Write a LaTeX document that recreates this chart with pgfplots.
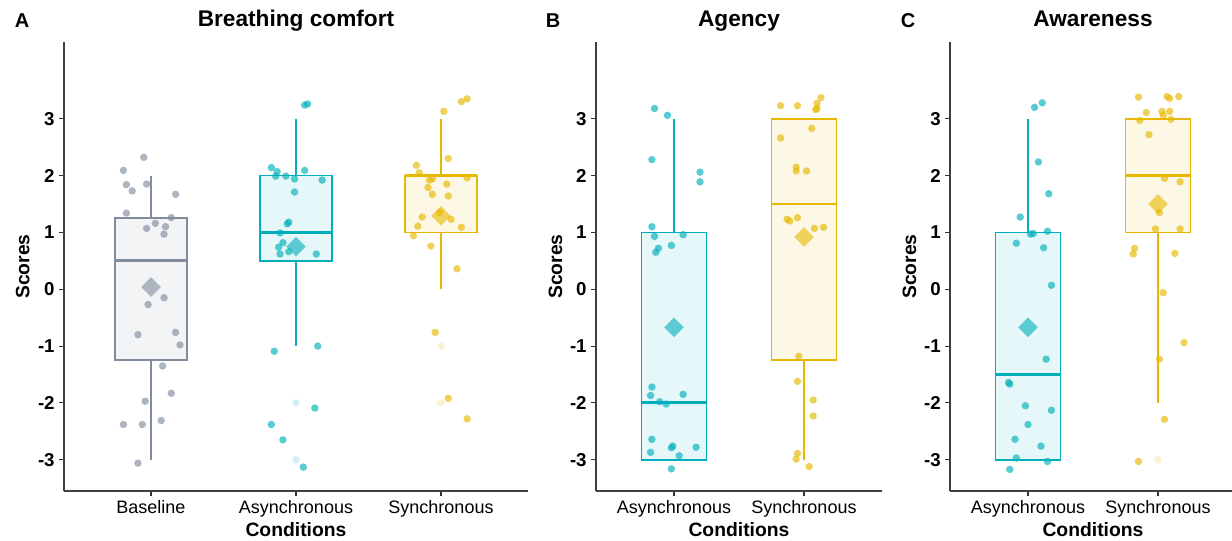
\documentclass[border=0pt]{standalone}
\usepackage{fontspec}
\setmainfont{Liberation Sans}
\usepackage{pgfplots}
\pgfplotsset{compat=1.18}
\usepgfplotslibrary{statistics}

\definecolor{grayc}{RGB}{128,141,158}
\definecolor{tealc}{HTML}{00AFBB}
\definecolor{yelc}{HTML}{E7B800}

\pgfplotsset{
  panel/.style={
    scale only axis, height=336.75pt,
    anchor=south west,
    axis lines=left, axis line style={-, line width=1.1pt, black!75},
    ymin=-3.55, ymax=4.35,
    ytick={-3,-2,-1,0,1,2,3}, yticklabels={-3,-2,-1,0,1,2,3},
    tick align=outside, major tick length=3.5pt,
    tick style={black!80, line width=0.8pt},
    yticklabel style={font=\fontsize{14}{16}\selectfont\bfseries},
    xticklabel style={font=\fontsize{13.5}{16}\selectfont},
    label style={font=\fontsize{14.5}{17}\selectfont\bfseries},
    xlabel={Conditions}, ylabel={Scores},
    xlabel style={at={(axis description cs:0.5,0)}, anchor=base, yshift=-34pt},
    title style={font=\fontsize{17}{20}\selectfont\bfseries,
      at={(axis description cs:0.5,1)}, anchor=base, yshift=5.5pt},
    boxplot/draw direction=y,
  },
  pts/.style={only marks, mark=*, mark size=2.8pt, color=#1,
    mark options={draw opacity=0, line width=0pt, fill=#1, fill opacity=0.65}},
  outl/.style={only marks, mark=*, mark size=2.8pt, color=#1,
    mark options={draw opacity=0, line width=0pt, fill=#1, fill opacity=0.18}},
  mn/.style={only marks, mark=square*, mark size=5.2pt, color=#1,
    mark options={rotate=45, draw opacity=0, fill=#1, fill opacity=0.6}},
  bx/.style={draw=#1, fill=#1!10,
    /pgfplots/boxplot/whisker extend=0,
    /pgfplots/boxplot/every box/.style={line width=1.2pt},
    /pgfplots/boxplot/every whisker/.style={line width=0.8pt},
    /pgfplots/boxplot/every median/.style={line width=2.2pt}},
}

\begin{document}
\begin{tikzpicture}
\useasboundingbox (0,0) rectangle (924pt,405.75pt);

\node[anchor=base, font=\fontsize{15}{18}\selectfont\bfseries] at (16.5pt,385pt) {A};
\node[anchor=base, font=\fontsize{15}{18}\selectfont\bfseries] at (414.75pt,385pt) {B};
\node[anchor=base, font=\fontsize{15}{18}\selectfont\bfseries] at (681pt,385pt) {C};

% ---------- A: Breathing comfort
\begin{axis}[panel, at={(48pt,37.5pt)}, width=348pt,
    xmin=0.4, xmax=3.6, xtick={1,2,3},
    xticklabels={Baseline,Asynchronous,Synchronous},
    ylabel style={at={(axis description cs:-0.089,0.5)}, anchor=center},
    title={Breathing comfort}]
\addplot[bx=grayc, boxplot prepared={lower whisker=-3, lower quartile=-1.25,
    median=0.5, upper quartile=1.25, upper whisker=2, draw position=1, box extend=0.5}]
    coordinates {};
\addplot[bx=tealc, boxplot prepared={lower whisker=-1, lower quartile=0.5,
    median=1, upper quartile=2, upper whisker=3, draw position=2, box extend=0.5}]
    coordinates {};
\addplot[bx=yelc, boxplot prepared={lower whisker=0, lower quartile=1,
    median=2, upper quartile=2, upper whisker=3, draw position=3, box extend=0.5}]
    coordinates {};
\addplot[outl=tealc] coordinates {(2,-2) (2,-3)};
\addplot[outl=yelc] coordinates {(3,-1) (3,-2)};
\addplot[pts=grayc] table {
0.95 2.32
0.81 2.09
0.83 1.84
0.87 1.73
0.97 1.85
1.17 1.67
0.83 1.34
1.14 1.26
1.03 1.16
0.97 1.07
1.10 1.10
1.09 0.97
1.09 -0.15
0.98 -0.27
0.91 -0.80
1.17 -0.76
1.20 -0.98
1.08 -1.35
1.14 -1.83
0.96 -1.97
0.81 -2.38
0.94 -2.38
1.07 -2.31
0.91 -3.06
};
\addplot[pts=tealc] table {
2.06 3.24
2.08 3.26
1.83 2.14
1.87 2.07
1.86 1.99
1.93 1.99
2.06 2.09
1.99 1.94
2.18 1.92
1.99 1.71
1.95 1.18
1.94 1.15
1.89 0.99
1.91 0.82
1.88 0.74
1.89 0.62
1.95 0.66
2.14 0.62
1.85 -1.09
2.15 -1.00
2.13 -2.09
1.83 -2.38
1.91 -2.65
2.05 -3.13
};
\addplot[pts=yelc] table {
3.18 3.35
3.14 3.30
3.02 3.13
3.05 2.30
2.83 2.18
2.85 2.05
2.92 1.92
2.94 1.94
3.18 1.96
3.04 1.85
2.91 1.79
2.94 1.67
3.05 1.64
2.99 1.35
2.87 1.27
3.07 1.23
2.84 1.11
3.14 1.09
2.81 0.94
2.93 0.76
3.11 0.36
2.96 -0.76
3.05 -1.92
3.18 -2.28
};
\addplot[mn=grayc] coordinates {(1,0.04)};
\addplot[mn=tealc] coordinates {(2,0.75)};
\addplot[mn=yelc] coordinates {(3,1.29)};
\end{axis}

% ---------- B: Agency
\begin{axis}[panel, at={(447pt,37.5pt)}, width=214.5pt,
    xmin=0.4, xmax=2.6, xtick={1,2},
    xticklabels={Asynchronous,Synchronous},
    ylabel style={at={(axis description cs:-0.142,0.5)}, anchor=center},
    title={Agency}]
\addplot[bx=tealc, boxplot prepared={lower whisker=-3, lower quartile=-3,
    median=-2, upper quartile=1, upper whisker=3, draw position=1, box extend=0.5}]
    coordinates {};
\addplot[bx=yelc, boxplot prepared={lower whisker=-3, lower quartile=-1.25,
    median=1.5, upper quartile=3, upper whisker=3, draw position=2, box extend=0.5}]
    coordinates {};
\addplot[pts=tealc] table {
0.85 3.18
0.95 3.06
0.83 2.28
1.20 2.06
1.20 1.89
0.83 1.10
0.85 0.93
1.07 0.96
0.88 0.72
0.86 0.65
0.98 0.77
0.83 -1.72
0.82 -1.87
1.07 -1.85
0.89 -1.98
0.94 -2.02
0.83 -2.64
0.82 -2.87
0.98 -2.79
0.99 -2.76
1.17 -2.78
1.04 -2.93
0.98 -3.16
};
\addplot[pts=yelc] table {
1.82 3.23
1.95 3.23
2.13 3.37
2.10 3.27
2.09 3.16
2.10 3.18
2.06 2.83
1.82 2.66
1.94 2.15
1.94 2.08
2.02 2.08
1.87 1.23
1.89 1.20
1.95 1.26
2.08 1.07
2.15 1.09
1.96 -1.18
1.95 -1.62
2.07 -1.95
2.07 -2.23
1.95 -2.89
1.94 -2.99
2.04 -3.12
};
\addplot[mn=tealc] coordinates {(1,-0.67)};
\addplot[mn=yelc] coordinates {(2,0.92)};
\end{axis}

% ---------- C: Awareness
\begin{axis}[panel, at={(712.5pt,37.5pt)}, width=214.5pt,
    xmin=0.4, xmax=2.6, xtick={1,2},
    xticklabels={Asynchronous,Synchronous},
    ylabel style={at={(axis description cs:-0.142,0.5)}, anchor=center},
    title={Awareness}]
\addplot[bx=tealc, boxplot prepared={lower whisker=-3, lower quartile=-3,
    median=-1.5, upper quartile=1, upper whisker=3, draw position=1, box extend=0.5}]
    coordinates {};
\addplot[bx=yelc, boxplot prepared={lower whisker=-2, lower quartile=1,
    median=2, upper quartile=3, upper whisker=3, draw position=2, box extend=0.5}]
    coordinates {};
\addplot[outl=yelc] coordinates {(2,-3)};
\addplot[pts=tealc] table {
1.05 3.20
1.11 3.28
1.08 2.24
1.16 1.68
0.94 1.27
0.91 0.81
1.02 0.97
1.04 0.98
1.15 1.02
1.12 0.73
1.18 0.07
1.14 -1.23
0.85 -1.64
0.86 -1.67
0.98 -2.05
1.18 -2.13
1.00 -2.38
0.90 -2.64
1.10 -2.76
0.91 -2.97
1.15 -3.03
0.86 -3.17
};
\addplot[pts=yelc] table {
1.85 3.38
2.07 3.39
2.09 3.36
2.16 3.39
1.91 3.11
2.03 3.13
2.04 3.06
2.09 3.13
1.86 2.97
2.10 2.99
1.93 2.72
2.05 1.95
2.17 1.89
2.01 1.35
1.98 1.06
2.17 1.06
1.82 0.72
1.81 0.62
2.13 0.63
2.04 -0.06
2.20 -0.94
2.01 -1.23
2.05 -2.29
1.85 -3.03
};
\addplot[mn=tealc] coordinates {(1,-0.67)};
\addplot[mn=yelc] coordinates {(2,1.50)};
\end{axis}
\end{tikzpicture}
\end{document}
